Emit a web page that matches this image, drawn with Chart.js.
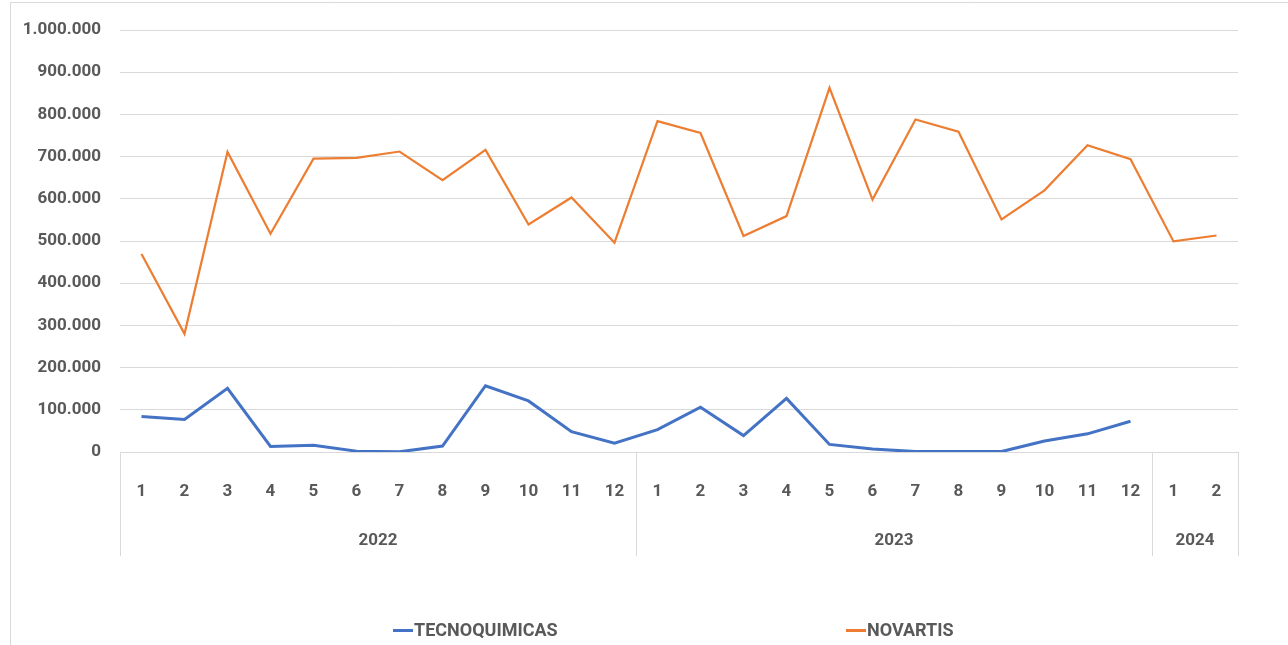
<!DOCTYPE html>
<html>
<head>
<meta charset="utf-8">
<script src="https://cdn.jsdelivr.net/npm/chart.js@4.4.1/dist/chart.umd.min.js"></script>
<style>
  html, body { margin: 0; padding: 0; background: #fff; }
  #wrap { position: relative; width: 1288px; height: 645px; }
</style>
</head>
<body>
<div id="wrap"><canvas id="chart"></canvas></div>
<script>
// ---- data ----
const months = ["1","2","3","4","5","6","7","8","9","10","11","12",
                "1","2","3","4","5","6","7","8","9","10","11","12",
                "1","2"];
const years = ["2022", "2023", "2024"];
const yearCounts = [12, 12, 2];

const tecnoquimicas = [84000, 77000, 151000, 13000, 16000, 2000, 500, 14000, 157000, 121000, 48000, 21000,
                       53000, 106000, 39000, 127000, 18000, 7000, 1000, 1000, 1000, 26000, 43000, 73000,
                       null, null];
const novartis = [469000, 280000, 711000, 517000, 695000, 697000, 712000, 644000, 716000, 539000, 603000, 496000,
                  784000, 756000, 512000, 559000, 863000, 598000, 788000, 759000, 551000, 620000, 727000, 694000,
                  499000, 513000];

const FONT = "Roboto, 'Liberation Sans', sans-serif";
const TEXT = "#595959";
const GRID = "#d9d9d9";

function fmt(v) {
  return String(v).replace(/\B(?=(\d{3})+(?!\d))/g, ".");
}

// frame, year groups and legend
const extras = {
  id: "extras",
  beforeDraw(chart) {
    const c = chart.ctx;
    c.save();
    c.strokeStyle = GRID;
    c.lineWidth = 1;
    c.beginPath();
    c.moveTo(10.5, 2); c.lineTo(10.5, 645);
    c.moveTo(10, 2.5); c.lineTo(1288, 2.5);
    c.stroke();
    c.restore();
  },
  afterDraw(chart) {
    const c = chart.ctx;
    const x = chart.scales.x;
    const area = chart.chartArea;
    const half = (x.getPixelForValue(1) - x.getPixelForValue(0)) / 2;
    c.save();
    c.strokeStyle = GRID;
    c.lineWidth = 1;
    c.fillStyle = TEXT;
    c.font = "bold 17px " + FONT;
    c.textAlign = "center";
    c.textBaseline = "middle";
    let idx = 0;
    const edges = [area.left];
    yearCounts.forEach((n, i) => {
      const x0 = x.getPixelForValue(idx) - half;
      const x1 = x.getPixelForValue(idx + n - 1) + half;
      edges.push(x1);
      c.fillText(years[i], (x0 + x1) / 2, 541);
      idx += n;
    });
    c.beginPath();
    edges.forEach(e => {
      const px = Math.round(e) + 0.5;
      c.moveTo(px, area.bottom);
      c.lineTo(px, 556);
    });
    c.stroke();

    // legend
    const starts = [393, 846];
    c.textAlign = "left";
    c.font = "bold 18px " + FONT;
    chart.data.datasets.forEach((ds, i) => {
      c.fillStyle = ds.borderColor;
      c.fillRect(starts[i], 629, 20, 3);
      c.fillStyle = TEXT;
      c.fillText(ds.label, starts[i] + 21, 631);
    });
    c.restore();
  }
};

new Chart(document.getElementById("chart"), {
  type: "line",
  data: {
    labels: months,
    datasets: [
      { label: "TECNOQUIMICAS", data: tecnoquimicas, borderColor: "#4472C4", backgroundColor: "#4472C4",
        borderWidth: 3, pointRadius: 0, tension: 0 },
      { label: "NOVARTIS", data: novartis, borderColor: "#ED7D31", backgroundColor: "#ED7D31",
        borderWidth: 2.2, pointRadius: 0, tension: 0 }
    ]
  },
  options: {
    responsive: true,
    maintainAspectRatio: false,
    animation: false,
    layout: { padding: { top: 30, left: 0, right: 50, bottom: 0 } },
    plugins: {
      legend: { display: false },
      tooltip: { enabled: false }
    },
    scales: {
      x: {
        offset: true,
        grid: { display: false },
        border: { color: GRID, width: 1 },
        ticks: { color: TEXT, font: { family: FONT, size: 17, weight: "bold" }, padding: 22,
                 maxRotation: 0, autoSkip: false },
        afterFit(s) { s.height = 193; }
      },
      y: {
        min: 0,
        max: 1000000,
        grid: { color: GRID, lineWidth: 1, drawTicks: false },
        border: { display: false },
        ticks: { stepSize: 100000, color: TEXT, padding: 19,
                 font: { family: FONT, size: 17, weight: "bold" },
                 callback: v => fmt(v) },
        afterFit(s) { s.width = 120; }
      }
    }
  },
  plugins: [extras]
});
</script>
</body>
</html>
